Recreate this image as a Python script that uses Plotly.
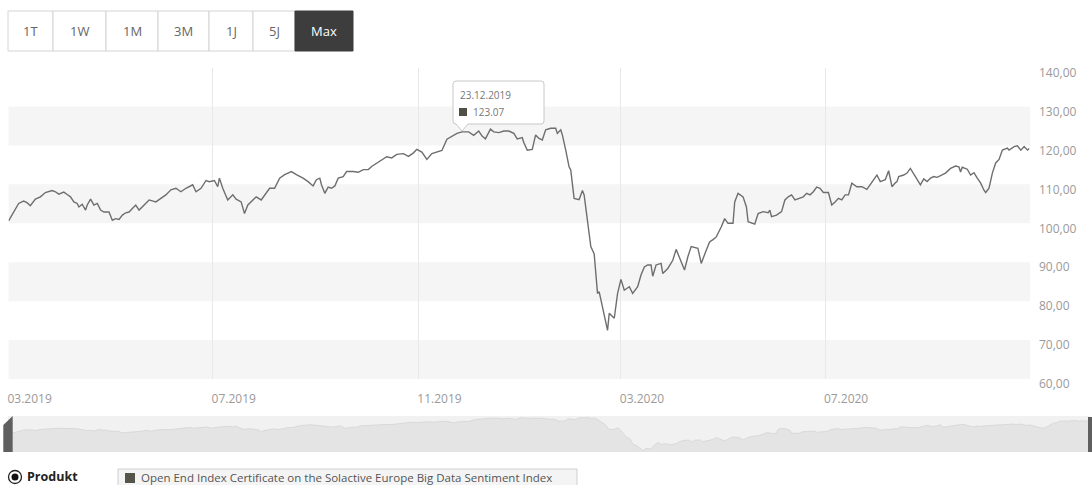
import plotly.graph_objects as go

# ---------------- data ----------------
dates = [
    "2019-03-01", "2019-03-04", "2019-03-07", "2019-03-10", "2019-03-12", "2019-03-14", "2019-03-17", "2019-03-20",
    "2019-03-23", "2019-03-27", "2019-03-29", "2019-03-31",
    "2019-04-03", "2019-04-05", "2019-04-07", "2019-04-09", "2019-04-11", "2019-04-12", "2019-04-14", "2019-04-16",
    "2019-04-17", "2019-04-19", "2019-04-21", "2019-04-23", "2019-04-25", "2019-04-27", "2019-04-30",
    "2019-05-02", "2019-05-04", "2019-05-06", "2019-05-08", "2019-05-10", "2019-05-12", "2019-05-14", "2019-05-16",
    "2019-05-18", "2019-05-21", "2019-05-24", "2019-05-28",
    "2019-06-01", "2019-06-03", "2019-06-06", "2019-06-09", "2019-06-12", "2019-06-15", "2019-06-19", "2019-06-21",
    "2019-06-24", "2019-06-27", "2019-06-29",
    "2019-07-02", "2019-07-04", "2019-07-05", "2019-07-07", "2019-07-10", "2019-07-13", "2019-07-15", "2019-07-18",
    "2019-07-20", "2019-07-22", "2019-07-25", "2019-07-27", "2019-07-30",
    "2019-08-01", "2019-08-04", "2019-08-07", "2019-08-10", "2019-08-13", "2019-08-17", "2019-08-20", "2019-08-24",
    "2019-08-27", "2019-08-30",
    "2019-09-01", "2019-09-03", "2019-09-04", "2019-09-06", "2019-09-08", "2019-09-10", "2019-09-12", "2019-09-14",
    "2019-09-17", "2019-09-19", "2019-09-23", "2019-09-26", "2019-09-29",
    "2019-10-02", "2019-10-04", "2019-10-07", "2019-10-10", "2019-10-13", "2019-10-16", "2019-10-19", "2019-10-23",
    "2019-10-26", "2019-10-29", "2019-10-31",
    "2019-11-03", "2019-11-06", "2019-11-09", "2019-11-12", "2019-11-15", "2019-11-18", "2019-11-21", "2019-11-24",
    "2019-11-27",
    "2019-12-01", "2019-12-04", "2019-12-07", "2019-12-09", "2019-12-11", "2019-12-14", "2019-12-16", "2019-12-19",
    "2019-12-22", "2019-12-25", "2019-12-28", "2019-12-30",
    "2020-01-02", "2020-01-03", "2020-01-05", "2020-01-08", "2020-01-10", "2020-01-12", "2020-01-14", "2020-01-16",
    "2020-01-19", "2020-01-22", "2020-01-23", "2020-01-25", "2020-01-26", "2020-01-28", "2020-01-30", "2020-01-31",
    "2020-02-02", "2020-02-05", "2020-02-07", "2020-02-08", "2020-02-10", "2020-02-12", "2020-02-14", "2020-02-16",
    "2020-02-17", "2020-02-18", "2020-02-20", "2020-02-22", "2020-02-23", "2020-02-26", "2020-02-28",
    "2020-03-01", "2020-03-03", "2020-03-06", "2020-03-08", "2020-03-11", "2020-03-13", "2020-03-15", "2020-03-17",
    "2020-03-19", "2020-03-20", "2020-03-22", "2020-03-25", "2020-03-26", "2020-03-29",
    "2020-04-01", "2020-04-03", "2020-04-05", "2020-04-08", "2020-04-10", "2020-04-12", "2020-04-16", "2020-04-18",
    "2020-04-21", "2020-04-23", "2020-04-25", "2020-04-27", "2020-04-30",
    "2020-05-02", "2020-05-04", "2020-05-07", "2020-05-08", "2020-05-10", "2020-05-13", "2020-05-15", "2020-05-16",
    "2020-05-19", "2020-05-20", "2020-05-22", "2020-05-25", "2020-05-28", "2020-05-29", "2020-05-30",
    "2020-06-02", "2020-06-05", "2020-06-07", "2020-06-09", "2020-06-11", "2020-06-13", "2020-06-16", "2020-06-18",
    "2020-06-20", "2020-06-22", "2020-06-24", "2020-06-26", "2020-06-28", "2020-06-30",
    "2020-07-03", "2020-07-05", "2020-07-07", "2020-07-09", "2020-07-11", "2020-07-13", "2020-07-15", "2020-07-17",
    "2020-07-20", "2020-07-23", "2020-07-26", "2020-07-29",
    "2020-08-01", "2020-08-03", "2020-08-06", "2020-08-08", "2020-08-10", "2020-08-12", "2020-08-13", "2020-08-14",
    "2020-08-17", "2020-08-19", "2020-08-21", "2020-08-24", "2020-08-27", "2020-08-29", "2020-08-31",
    "2020-09-02", "2020-09-04", "2020-09-06", "2020-09-09", "2020-09-11", "2020-09-14", "2020-09-17", "2020-09-19",
    "2020-09-20", "2020-09-21", "2020-09-24", "2020-09-26", "2020-09-28", "2020-09-30",
    "2020-10-02", "2020-10-04", "2020-10-05", "2020-10-07", "2020-10-09", "2020-10-11", "2020-10-13", "2020-10-15",
    "2020-10-18", "2020-10-19", "2020-10-22", "2020-10-24", "2020-10-26", "2020-10-28", "2020-10-30", "2020-10-31",
]

values = [
    100.6, 102.9, 105.1, 105.7, 105.3, 104.5, 106.2, 106.8, 107.9, 108.4, 108.1, 107.5,
    108.0, 107.4, 106.8, 105.5, 105.1, 104.2, 104.9, 103.4, 104.7, 106.2, 104.7, 105.1, 103.4, 102.9, 102.9,
    100.8, 101.2, 101.0, 102.1, 102.7, 102.9, 103.8, 104.7, 103.4, 104.7, 106.0, 105.5,
    106.8, 107.3, 108.6, 109.0, 108.1, 109.0, 109.9, 108.1, 109.0, 111.0, 110.7,
    111.0, 109.4, 111.6, 109.0, 106.0, 107.3, 106.2, 105.5, 102.5, 104.7, 106.0, 106.8, 106.0,
    107.3, 109.0, 109.0, 111.6, 112.5, 113.3, 112.5, 111.6, 110.7, 109.6,
    111.2, 111.6, 109.9, 107.7, 109.3, 109.0, 109.6, 111.6, 112.0, 113.3, 113.3, 113.1, 113.8,
    113.8, 114.6, 115.5, 116.4, 117.1, 116.8, 117.7, 117.9, 117.2, 118.1, 119.0,
    118.3, 116.4, 117.9, 118.3, 118.7, 121.6, 122.4, 123.1, 123.5,
    123.5, 122.6, 123.7, 122.4, 121.7, 124.2, 123.5, 123.3, 123.7, 123.7, 123.1, 121.7,
    122.0, 120.7, 118.8, 119.0, 122.7, 121.8, 121.4, 124.0, 124.4, 124.4, 123.1, 124.0, 122.7, 118.8, 114.5, 113.7,
    106.4, 106.1, 108.4, 107.3, 100.8, 94.0, 92.1, 82.0, 82.4, 80.3, 76.9, 72.5, 76.9, 75.6, 82.0,
    85.6, 82.8, 83.7, 82.0, 83.7, 86.7, 88.8, 89.3, 89.3, 86.4, 89.3, 89.7, 87.1, 88.4,
    90.5, 93.3, 91.0, 88.0, 91.4, 94.0, 93.6, 89.7, 93.1, 95.2, 95.8, 96.5, 99.1,
    101.2, 100.0, 100.0, 105.5, 107.7, 106.8, 104.2, 100.4, 100.0, 99.8, 102.5, 103.0, 102.7, 103.4, 101.7,
    102.1, 103.0, 106.0, 106.8, 107.3, 106.0, 106.4, 106.8, 107.7, 107.3, 108.1, 109.3, 109.0, 107.9,
    107.9, 104.7, 105.5, 106.4, 106.0, 107.3, 107.3, 110.3, 109.4, 109.4, 108.7, 110.7,
    112.4, 110.7, 111.2, 113.5, 109.4, 110.4, 110.7, 112.0, 112.4, 112.9, 114.1, 112.0, 109.9, 111.4, 110.7,
    111.6, 112.0, 111.8, 112.4, 112.9, 114.1, 114.7, 114.5, 113.2, 114.4, 113.9, 112.4, 113.0, 111.6,
    110.3, 108.5, 107.9, 109.0, 112.9, 115.5, 116.4, 118.8, 119.3, 118.8, 119.7, 119.9, 118.8, 119.7, 118.8, 119.2,
]
assert len(dates) == len(values)

range_buttons = ["1T", "1W", "1M", "3M", "1J", "5J", "Max"]
active_button = "Max"
band_lows = [60, 80, 100, 120]
tooltip_date = "23.12.2019"
tooltip_value = "123.07"
legend_group = "Produkt"
series_name = "Open End Index Certificate on the Solactive Europe Big Data Sentiment Index"

# ---------------- layout helpers (pixel -> paper) ----------------
FIG_W, FIG_H = 1092, 485
ML, MR = 8, 4
PW = FIG_W - ML - MR


def px(x):
    return (x - ML) / PW


def py(y):
    return (FIG_H - y) / FIG_H


FONT = "Open Sans"
LINE_COLOR = "#6e6e6e"

fig = go.Figure()

fig.add_trace(go.Scatter(
    x=dates, y=values, mode="lines", name=series_name,
    line=dict(color=LINE_COLOR, width=1.4), xaxis="x", yaxis="y",
    hoverinfo="skip",
))
fig.add_trace(go.Scatter(
    x=dates, y=values, mode="lines", fill="tozeroy", fillcolor="#e4e4e4",
    line=dict(color="#d9d9d9", width=1), xaxis="x2", yaxis="y2",
    hoverinfo="skip",
))

shapes = []
annotations = []

# alternating bands
for lo in band_lows:
    shapes.append(dict(type="rect", xref="x domain", yref="y", x0=0, x1=1, y0=lo, y1=lo + 10,
                       fillcolor="#f5f5f5", line=dict(width=0), layer="below"))

# navigator background + handles
shapes.append(dict(type="rect", xref="paper", yref="paper", x0=px(8), x1=px(1090), y0=py(452), y1=py(416),
                   fillcolor="#f1f1f1", line=dict(width=0), layer="below"))
shapes.append(dict(type="path", xref="paper", yref="paper",
                   path=f"M {px(3.3)} {py(452)} L {px(3.3)} {py(425)} L {px(12.7)} {py(416)} L {px(12.7)} {py(452)} Z",
                   fillcolor="#5f5f5f", line=dict(width=0)))
shapes.append(dict(type="rect", xref="paper", yref="paper", x0=px(1088), x1=px(1093), y0=py(452), y1=py(417),
                   fillcolor="#5f5f5f", line=dict(width=0)))

# range buttons
edges = [8, 53, 106, 158, 209, 253, 295, 353]
for i, lab in enumerate(range_buttons):
    active = lab == active_button
    shapes.append(dict(type="rect", xref="paper", yref="paper",
                       x0=px(edges[i]), x1=px(edges[i + 1]), y0=py(51), y1=py(11),
                       fillcolor="#3d3d3d" if active else "#ffffff",
                       line=dict(color="#3d3d3d" if active else "#d4d4d4", width=1)))
    annotations.append(dict(xref="paper", yref="paper", x=px((edges[i] + edges[i + 1]) / 2), y=py(31),
                            text=lab, showarrow=False, xanchor="center", yanchor="middle",
                            font=dict(family=FONT, size=13, color="#ffffff" if active else "#666666")))

# tooltip
tx0, tx1, ty0, ty1, r = 453, 544, 81, 124, 3
path = (f"M {px(tx0 + r)} {py(ty0)} L {px(tx1 - r)} {py(ty0)} "
        f"Q {px(tx1)} {py(ty0)} {px(tx1)} {py(ty0 + r)} "
        f"L {px(tx1)} {py(ty1 - r)} Q {px(tx1)} {py(ty1)} {px(tx1 - r)} {py(ty1)} "
        f"L {px(468)} {py(ty1)} L {px(462)} {py(131)} L {px(456)} {py(ty1)} "
        f"L {px(tx0 + r)} {py(ty1)} Q {px(tx0)} {py(ty1)} {px(tx0)} {py(ty1 - r)} "
        f"L {px(tx0)} {py(ty0 + r)} Q {px(tx0)} {py(ty0)} {px(tx0 + r)} {py(ty0)} Z")
shapes.append(dict(type="path", xref="paper", yref="paper", path=path,
                   fillcolor="rgba(255,255,255,0.95)", line=dict(color="#c8c8c8", width=1)))
shapes.append(dict(type="rect", xref="paper", yref="paper", x0=px(459), x1=px(467), y0=py(116), y1=py(108),
                   fillcolor="#4f4f45", line=dict(width=0)))
annotations.append(dict(xref="paper", yref="paper", x=px(458), y=py(95), text=tooltip_date, showarrow=False,
                        xanchor="left", yanchor="middle", font=dict(family=FONT, size=10, color="#777777")))
annotations.append(dict(xref="paper", yref="paper", x=px(471), y=py(112), text=tooltip_value, showarrow=False,
                        xanchor="left", yanchor="middle", font=dict(family=FONT, size=10, color="#777777")))

# bottom legend
shapes.append(dict(type="circle", xref="paper", yref="paper", x0=px(8.5), x1=px(21.5), y0=py(483.5), y1=py(470.5),
                   fillcolor="#ffffff", line=dict(color="#222222", width=1.3)))
shapes.append(dict(type="circle", xref="paper", yref="paper", x0=px(11.5), x1=px(18.5), y0=py(480.5), y1=py(473.5),
                   fillcolor="#111111", line=dict(width=0)))
annotations.append(dict(xref="paper", yref="paper", x=px(26), y=py(476), text=f"<b>{legend_group}</b>",
                        showarrow=False, xanchor="left", yanchor="middle", borderpad=0,
                        font=dict(family=FONT, size=12.5, color="#222222")))
shapes.append(dict(type="rect", xref="paper", yref="paper", x0=px(118), x1=px(577), y0=py(492), y1=py(469),
                   fillcolor="#f4f4f4", line=dict(color="#cfcfcf", width=1)))
shapes.append(dict(type="rect", xref="paper", yref="paper", x0=px(125), x1=px(135), y0=py(483), y1=py(473),
                   fillcolor="#55554a", line=dict(width=0)))
annotations.append(dict(xref="paper", yref="paper", x=px(140), y=py(477.5), text=series_name,
                        showarrow=False, xanchor="left", yanchor="middle", borderpad=0,
                        font=dict(family=FONT, size=11.5, color="#555555")))

fig.update_layout(
    width=FIG_W, height=FIG_H,
    margin=dict(l=ML, r=MR, t=0, b=0, pad=0, autoexpand=False),
    paper_bgcolor="#ffffff", plot_bgcolor="rgba(0,0,0,0)",
    showlegend=False, separators=",.",
    font=dict(family=FONT, size=12, color="#999999"),
    hovermode=False,
    xaxis=dict(
        type="date", domain=[px(8.6), px(1030)], anchor="y", automargin=False,
        range=[dates[0], "2020-10-31 12:00"],
        tick0="2019-03-01", dtick="M4", tickformat="%m.%Y",
        showgrid=True, gridcolor="#e8e8e8", gridwidth=1,
        zeroline=False, showline=False, ticks="",
        tickfont=dict(family=FONT, size=12, color="#9a9a9a"),
        ticklabelshift=21, ticklabelstandoff=11,
    ),
    yaxis=dict(
        domain=[py(379), py(67.6)], anchor="x", side="right", automargin=False,
        range=[60, 140], tick0=60, dtick=10, tickformat=".2f",
        showgrid=False, zeroline=False, showline=False, ticks="",
        tickfont=dict(family=FONT, size=12, color="#9a9a9a"),
        ticklabelstandoff=8, ticklabelshift=5,
    ),
    xaxis2=dict(
        type="date", domain=[px(13), px(1088)], anchor="y2", automargin=False,
        range=[dates[0], dates[-1]], visible=False,
    ),
    yaxis2=dict(
        domain=[py(452), py(416)], anchor="x2", range=[71, 127], visible=False, automargin=False,
    ),
    shapes=shapes,
    annotations=annotations,
)

fig.write_html(
    "out.html",
    config={"displayModeBar": False},
    post_script="document.body.style.margin='0px';document.body.style.overflow='hidden';",
)
